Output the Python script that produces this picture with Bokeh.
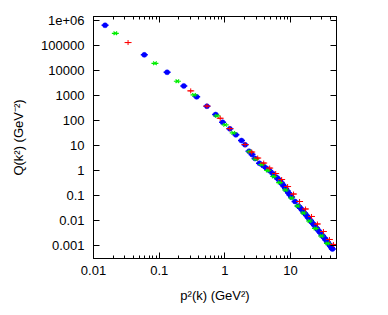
from bokeh.plotting import figure
from bokeh.models import FixedTicker, LogAxis, Range1d, ColumnDataSource
from bokeh.embed import file_html
from bokeh.resources import INLINE

# ---- data ----
blue_p = [0.0150, 0.0593, 0.132, 0.237, 0.372, 0.533, 0.723, 0.923, 1.19, 1.47,
          1.79, 2.03, 2.33, 2.59, 2.88, 3.36, 3.80, 4.28, 4.81, 5.40, 6.07,
          6.43, 6.81, 7.18, 7.57, 7.98, 8.40, 8.85, 9.33, 9.82, 10.35, 11.7,
          13.2, 14.2, 15.2, 16.3, 17.5, 18.7, 20.1, 21.5, 23.1, 24.8, 26.5,
          28.5, 30.5, 32.7, 34.5, 36.4, 38.3, 40.4, 41.8, 43.3]
blue_q = [6.67e5, 4.37e4, 8790, 2510, 912, 384, 179, 87.9, 47.9, 27.5,
          16.3, 11.0, 6.08, 4.49, 3.10, 2.01, 1.63, 1.27, 1.0, 0.759, 0.555,
          0.479, 0.409, 0.340, 0.283, 0.235, 0.196, 0.158, 0.129, 0.108, 0.0895, 0.0592,
          0.0391, 0.0319, 0.0258, 0.0205, 0.0163, 0.0129, 0.0103, 0.00817, 0.00649, 0.00515, 0.00409,
          0.00325, 0.00258, 0.00205, 0.00171, 0.00142, 0.00118, 0.000982, 0.000855, 0.000745]

green_p = [0.0215, 0.0861, 0.189, 0.339, 0.757, 1.01, 1.34, 2.39, 2.95, 3.64,
           4.48, 5.53, 6.81, 8.40, 10.35, 12.8, 15.7, 19.4, 23.9, 29.5, 36.4]
green_q = [3.19e5, 2.01e4, 3840, 1096, 158, 69.2, 33.1, 5.92, 2.96, 1.79,
           1.03, 0.592, 0.340, 0.171, 0.0817, 0.0391, 0.0205, 0.00982, 0.00492, 0.00247, 0.00124]

red_p = [0.0336, 0.302, 0.533, 0.849, 1.19, 2.03, 2.56, 3.16, 3.90, 4.81,
         5.93, 7.31, 9.01, 11.1, 13.7, 16.9, 20.8, 25.6, 31.6, 39.0, 44.9]
red_q = [1.36e5, 1585, 390, 127, 49.0, 11.3, 5.65, 3.25, 2.05, 1.29,
         0.780, 0.449, 0.235, 0.118, 0.0592, 0.0297, 0.0149, 0.00745, 0.00373, 0.00179, 0.00113]

x_ticks = [0.01, 0.1, 1, 10]
x_labels = ["0.01", "0.1", "1", "10"]
y_ticks = [1e6, 1e5, 1e4, 1e3, 100, 10, 1, 0.1, 0.01, 0.001]
y_labels = ["1e+06", "100000", "10000", "1000", "100", "10", "1", "0.1", "0.01", "0.001"]

FONT = "Liberation Sans"
FS = "13px"

p = figure(width=380, height=307, x_axis_type="log", y_axis_type="log",
           x_range=Range1d(0.01, 50), y_range=Range1d(3.1e-4, 1.5e6),
           output_backend="svg", toolbar_location=None,
           min_border_left=93, min_border_right=44, min_border_top=16, min_border_bottom=49)
p.grid.visible = False
p.outline_line_color = "black"
p.background_fill_color = "white"
p.border_fill_color = "white"

x_minor = [m * 10.0 ** e for e in (-2, -1, 0, 1) for m in range(2, 10) if m * 10.0 ** e <= 50]
xt = FixedTicker(ticks=x_ticks, minor_ticks=x_minor)
yt = FixedTicker(ticks=y_ticks)


def style(ax, minor):
    ax.major_tick_in = 6
    ax.major_tick_out = 0
    ax.minor_tick_in = 3
    ax.minor_tick_out = 0
    ax.axis_line_color = "black"
    ax.major_tick_line_color = "black"
    ax.minor_tick_line_color = "black" if minor else None
    ax.major_label_text_font = FONT
    ax.major_label_text_color = "black"
    ax.major_label_text_font_size = FS


xa = p.xaxis[0]
xa.ticker = xt
xa.major_label_overrides = {v: s for v, s in zip(x_ticks, x_labels)}
style(xa, True)
xa.major_label_standoff = 7
xa.axis_label = "p\u00b2(k) (GeV\u00b2)"
xa.axis_label_text_font = FONT
xa.axis_label_text_font_size = FS
xa.axis_label_text_font_style = "normal"
xa.axis_label_text_color = "black"
xa.axis_label_standoff = 10

ya = p.yaxis[0]
ya.ticker = yt
ya.major_label_overrides = {v: s for v, s in zip(y_ticks, y_labels)}
style(ya, False)
ya.major_label_standoff = 9
ya.axis_label = "Q(k\u00b2) (GeV\u207b\u00b2)"
ya.axis_label_text_font = FONT
ya.axis_label_text_font_size = FS
ya.axis_label_text_font_style = "normal"
ya.axis_label_text_color = "black"
ya.axis_label_standoff = 12

top = LogAxis(ticker=FixedTicker(ticks=x_ticks, minor_ticks=x_minor))
style(top, True)
top.major_label_text_font_size = "1px"
top.major_label_text_color = None
top.major_label_standoff = 0
p.add_layout(top, "above")
right = LogAxis(ticker=FixedTicker(ticks=y_ticks))
style(right, False)
right.major_label_text_font_size = "1px"
right.major_label_text_color = None
right.major_label_standoff = 0
p.add_layout(right, "right")

# series: red +, green x, blue filled circle, each with a short horizontal error bar
src_r = ColumnDataSource(dict(x=red_p, y=red_q))
src_g = ColumnDataSource(dict(x=green_p, y=green_q))
src_b = ColumnDataSource(dict(x=blue_p, y=blue_q))

p.scatter("x", "y", source=src_b, marker="dash", size=7, line_color="#0000ff", line_width=1.5)
p.scatter("x", "y", source=src_b, marker="circle", size=5, fill_color="#0000ff",
          line_color="#0000ff", line_width=0.5)
p.scatter("x", "y", source=src_g, marker="dash", size=7, line_color="#00ee00", line_width=1.2)
p.scatter("x", "y", source=src_g, marker="x", size=5, line_color="#00ee00", line_width=1.2)
p.scatter("x", "y", source=src_r, marker="dash", size=7, line_color="#ff0000", line_width=1)
p.scatter("x", "y", source=src_r, marker="cross", size=5, line_color="#ff0000", line_width=1)

open("out.html", "w").write(file_html(p, INLINE))
